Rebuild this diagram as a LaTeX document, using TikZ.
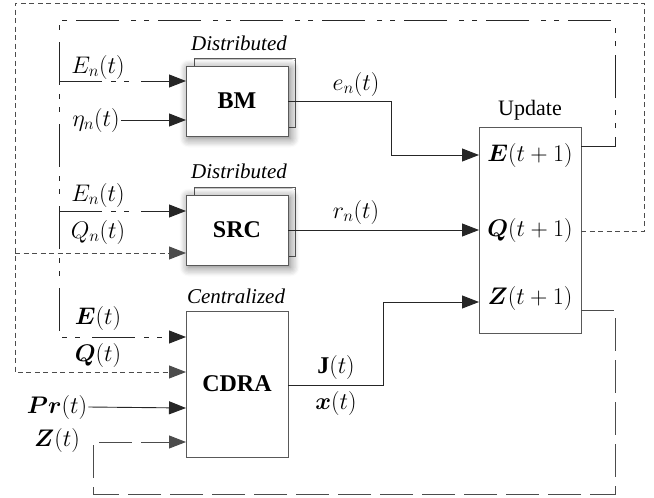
\RequirePackage{fix-cm}
\documentclass[tikz,border=0pt]{standalone}
\usepackage{amsmath,bm}
\usepackage{fontspec}
\setmainfont{Liberation Serif}
\usetikzlibrary{arrows.meta,shadows.blur}
\tikzset{
  box/.style={draw=black!65, fill=white, line width=0.9pt, inner sep=0pt},
  shad/.style={blur shadow={shadow xshift=2.5pt, shadow yshift=-2.5pt, shadow blur radius=9pt, shadow blur steps=8, shadow opacity=55}},
  arr/.style={-{Triangle[length=17pt,width=13pt]}},
  ln/.style={line width=0.9pt, draw=black!85},
  qdash/.style={ln, draw=black!70, dash pattern=on 5pt off 3.5pt},
  edash/.style={ln, dash pattern=on 43pt off 9pt on 5pt off 8pt on 5pt off 12pt},
  zdash/.style={ln, draw=black!70, dash pattern=on 33pt off 9pt},
  lab/.style={inner sep=1pt, font=\fontsize{24}{28}\selectfont},
  captext/.style={inner sep=0pt, font=\fontsize{21}{25}\selectfont\itshape}
}
\begin{document}
\begin{tikzpicture}[x=1pt,y=-1pt,font=\fontsize{22}{26}\selectfont]
\useasboundingbox (0,0) rectangle (654,498);
% boxes
\node[box, minimum width=101pt, minimum height=69pt] (bmb) at (244.5,92.5) {};
\node[box, shad, minimum width=102pt, minimum height=70pt, font=\fontsize{24}{28}\selectfont\bfseries] (bm) at (237,101) {BM};
\node[box, minimum width=101pt, minimum height=69pt] (srcb) at (244.5,221.5) {};
\node[box, shad, minimum width=102pt, minimum height=70pt, font=\fontsize{24}{28}\selectfont\bfseries] (src) at (237,230) {SRC};
\node[box, minimum width=102pt, minimum height=146pt, font=\fontsize{24}{28}\selectfont\bfseries] (cdra) at (237,384) {CDRA};
\node[box, minimum width=102pt, minimum height=206pt] (upd) at (530,230) {};
% captions
\node[captext] (cap1) at (239,43) {Distributed};
\node[captext] (cap2) at (239,171) {Distributed};
\node[captext] (cap3) at (236,296) {Centralized};
\node[inner sep=0pt] (cap4) at (530,110) {Update};
% update contents
\node[lab] (uEl) at (530,155) {$\bm{E}(t+1)$};
\node[lab] (uQl) at (530,230) {$\bm{Q}(t+1)$};
\node[lab] (uZl) at (530,298) {$\bm{Z}(t+1)$};
% ports
\coordinate (bmE) at (186,81);
\coordinate (bmEta) at (186,120);
\coordinate (srcE) at (186,211);
\coordinate (srcQ) at (186,253);
\coordinate (cE) at (186,337);
\coordinate (cQ) at (186,372);
\coordinate (cP) at (186,408);
\coordinate (cZ) at (186,442);
\coordinate (cOut) at (288,385);
\coordinate (uE) at (479,155);
\coordinate (uQ) at (479,230);
\coordinate (uZ) at (479,302);
\coordinate (uEo) at (581,146);
\coordinate (uQo) at (581,231);
\coordinate (uZo) at (581,310);
\coordinate (jE1) at (59,81);
\coordinate (jE2) at (59,211);
\coordinate (jQ1) at (15,253);
% input labels
\node[lab] (lEn1) at (98,67) {$E_n(t)$};
\node[lab] (eta) at (96,120) {$\eta_n(t)$};
\node[lab] (lEn2) at (98,195) {$E_n(t)$};
\node[lab] (lQn) at (98,232) {$Q_n(t)$};
\node[lab] (lE) at (98,318) {$\bm{E}(t)$};
\node[lab] (lQ) at (98,355) {$\bm{Q}(t)$};
\node[lab] (pr) at (57,407) {$\bm{Pr}(t)$};
\node[lab] (lZ) at (57,440) {$\bm{Z}(t)$};
% output labels
\node[lab] (len) at (356,84) {$e_n(t)$};
\node[lab] (lrn) at (356,212) {$r_n(t)$};
\node[lab] (lJ) at (336,367) {$\mathbf{J}(t)$};
\node[lab] (lx) at (336,403) {$\bm{x}(t)$};
% feedback loops
\draw[qdash,arr] (uQo) -- (644,231) -- (644,3) -- (15,3) -- (15,372) -- (cQ);
\draw[qdash,arr] (jQ1) -- (srcQ);
\draw[edash,arr] (uEo) -- (615,146) -- (615,20) -- (59,20) -- (59,337) -- (cE);
\draw[edash,arr] (jE1) -- (bmE);
\draw[edash,arr] (jE2) -- (srcE);
\draw[zdash,arr] (uZo) -- (615,310) -- (615,494) -- (93,494) -- (93,442) -- (cZ);
% forward connectors
\draw[ln,arr] (eta.east) -- (bmEta);
\draw[ln,arr] (pr.east) -- (cP);
\draw[ln,arr] (bm.east) -- (391,101) -- (391,155) -- (uE);
\draw[ln,arr] (src.east) -- (uQ);
\draw[ln,arr] (cOut) -- (383,385) -- (383,302) -- (uZ);
\end{tikzpicture}
\end{document}
